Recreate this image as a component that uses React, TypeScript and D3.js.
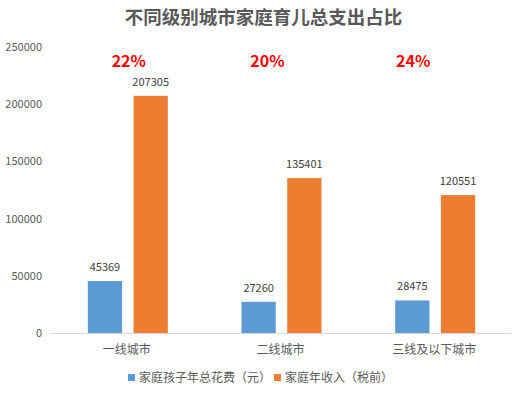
import React, { useEffect, useRef } from 'react';
import * as d3 from 'd3';

// chart data
const categories = ['一线城市', '二线城市', '三线及以下城市'];
const childSpend = [45369, 27260, 28475];
const familyIncome = [207305, 135401, 120551];
const shareLabels = ['22%', '20%', '24%'];
const seriesNames = ['家庭孩子年总花费（元）', '家庭年收入（税前）'];
const seriesColors = ['#5b9bd5', '#ed7d31'];
const yTicks = [0, 50000, 100000, 150000, 200000, 250000];

const W = 527;
const H = 395;
const FONT = '"Noto Sans CJK SC", "Noto Sans", sans-serif';

const App = () => {
  const svgRef = useRef<SVGSVGElement | null>(null);

  useEffect(() => {
    if (!svgRef.current) return;
    const svg = d3.select(svgRef.current);
    svg.selectAll('*').remove();

    const margin = { left: 50, right: 16, top: 47, bottom: 62 };
    const innerW = W - margin.left - margin.right;
    const innerH = H - margin.top - margin.bottom;

    const x = d3.scaleBand().domain(categories).range([0, innerW]).paddingInner(0).paddingOuter(0);
    const y = d3.scaleLinear().domain([0, 250000]).range([innerH, 0]);
    const sub = d3.scaleBand().domain(['0', '1']).range([-39, 41]).paddingInner(0.25);

    svg.append('rect').attr('width', W).attr('height', H).attr('fill', '#fff');

    // title
    svg.append('text')
      .attr('x', W / 2).attr('y', 24)
      .attr('text-anchor', 'middle')
      .attr('font-family', FONT)
      .attr('font-size', 18.5)
      .attr('font-weight', 'bold')
      .attr('fill', '#595959')
      .text('不同级别城市家庭育儿总支出占比');

    const g = svg.append('g').attr('transform', `translate(${margin.left},${margin.top})`);

    // y axis labels
    g.selectAll('.ytick')
      .data(yTicks)
      .join('text')
      .attr('x', -8).attr('y', d => y(d) + 4)
      .attr('text-anchor', 'end')
      .attr('font-family', FONT)
      .attr('font-size', 11)
      .attr('fill', '#595959')
      .text(d => d);

    // baseline
    g.append('line')
      .attr('x1', 0).attr('x2', innerW)
      .attr('y1', innerH + 0.5).attr('y2', innerH + 0.5)
      .attr('stroke', '#d9d9d9');

    const seriesData = [childSpend, familyIncome];
    seriesData.forEach((vals, si) => {
      const grp = g.append('g');
      grp.selectAll('rect')
        .data(vals)
        .join('rect')
        .attr('x', (_, i) => (x(categories[i]) as number) + x.bandwidth() / 2 + (sub(String(si)) as number))
        .attr('y', d => y(d))
        .attr('width', sub.bandwidth())
        .attr('height', d => innerH - y(d))
        .attr('fill', seriesColors[si]);
      grp.selectAll('text')
        .data(vals)
        .join('text')
        .attr('x', (_, i) => (x(categories[i]) as number) + x.bandwidth() / 2 + (sub(String(si)) as number) + sub.bandwidth() / 2)
        .attr('y', d => y(d) - 10)
        .attr('text-anchor', 'middle')
        .attr('font-family', FONT)
        .attr('font-size', 11)
        .attr('fill', '#404040')
        .text(d => d);
    });

    // share labels
    const shareOffsets = [2, -13, -21];
    g.selectAll('.share')
      .data(shareLabels)
      .join('text')
      .attr('x', (_, i) => (x(categories[i]) as number) + x.bandwidth() / 2 + shareOffsets[i])
      .attr('y', 20)
      .attr('text-anchor', 'middle')
      .attr('font-family', FONT)
      .attr('font-size', 16)
      .attr('font-weight', 'bold')
      .attr('fill', '#ff0000')
      .text(d => d);

    // category labels
    g.selectAll('.cat')
      .data(categories)
      .join('text')
      .attr('x', d => (x(d) as number) + x.bandwidth() / 2)
      .attr('y', innerH + 21)
      .attr('text-anchor', 'middle')
      .attr('font-family', FONT)
      .attr('font-size', 12)
      .attr('fill', '#595959')
      .text(d => d);

    // legend
    const legendX = [128, 274];
    const lg = svg.append('g');
    seriesNames.forEach((name, i) => {
      lg.append('rect')
        .attr('x', legendX[i]).attr('y', 374)
        .attr('width', 7).attr('height', 7)
        .attr('fill', seriesColors[i]);
      lg.append('text')
        .attr('x', legendX[i] + 11).attr('y', 382)
        .attr('font-family', FONT)
        .attr('font-size', 12)
        .attr('fill', '#595959')
        .text(name);
    });
  }, []);

  return <svg ref={svgRef} width={W} height={H} style={{ display: 'block', position: 'absolute', left: 0, top: 0 }} />;
};

export default App;
